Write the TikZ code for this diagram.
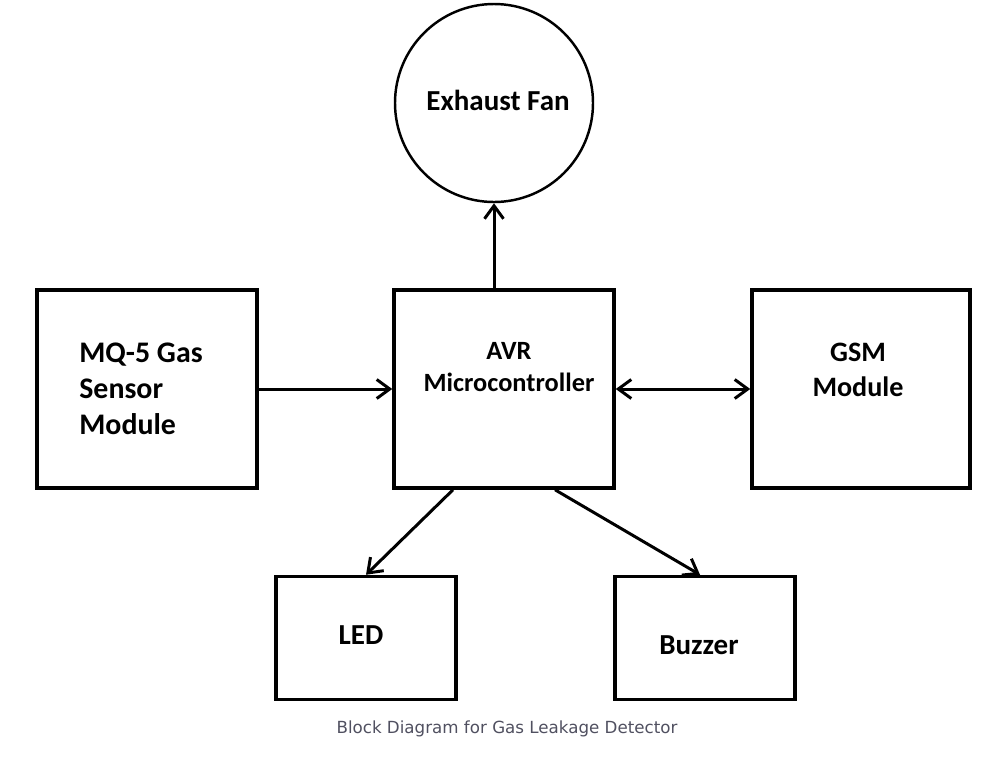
\documentclass[tikz,border=0pt]{standalone}
\usepackage{fontspec}
\setmainfont{Carlito}
\newfontfamily\captfont{DejaVu Sans}
\usepackage{tikz}
\usetikzlibrary{arrows.meta}
\usetikzlibrary{shapes,positioning}
\definecolor{captgray}{RGB}{80,80,96}
\tikzset{>={Straight Barb[length=2.6mm,width=3.8mm]},
  block/.style={draw, line width=2pt, inner sep=0pt},
  link/.style={line width=1.7pt},
  lbl/.style={font=\bfseries\fontsize{16.5}{20.4}\selectfont, inner sep=0pt},
  smalllbl/.style={font=\bfseries\fontsize{15}{18}\selectfont, inner sep=0pt}}

\begin{document}
\begin{tikzpicture}[x=0.2mm, y=-0.2mm]

  \useasboundingbox (0,0) rectangle (1000,770);

  % blocks
  \node [draw, circle, line width=1.4pt, minimum size=3.96cm, inner sep=0pt] (fan) at (494,103) {};
  \node [block, minimum width=4.4cm, minimum height=3.96cm] (mq) at (147,389) {};
  \node [block, minimum width=4.4cm, minimum height=3.96cm] (avr) at (504,389) {};
  \node [block, minimum width=4.36cm, minimum height=3.96cm] (gsm) at (861,389) {};
  \node [block, minimum width=3.6cm, minimum height=2.46cm] (led) at (366,638) {};
  \node [block, minimum width=3.6cm, minimum height=2.46cm] (buzzer) at (705,638) {};

  % texts
  \node [lbl] (fantxt) at (498,100) {Exhaust Fan};
  \node [lbl, font=\bfseries\fontsize{17}{20.4}\selectfont, align=left, anchor=west] (mqtxt) at (79,389) {MQ-5 Gas\\Sensor\\Module};
  \node [smalllbl, align=center] (avrtxt) at (509,367) {AVR\\Microcontroller};
  \node [lbl, font=\bfseries\fontsize{16}{19.8}\selectfont, align=center] (gsmtxt) at (858,370) {GSM\\Module};
  \node [lbl] (ledtxt) at (361,635) {LED};
  \node [lbl] (buzzertxt) at (699,645) {Buzzer};

  % arrows
  \draw [link, ->] (fan.south |- avr.north) -- (fan.south);
  \draw [link, ->] (mq.east) -- (avr.west);
  \draw [link, <->] (avr.east) -- (gsm.west);
  \draw [link, ->] ([xshift=-1.02cm]avr.south) -- (led.north);
  \draw [link, ->] ([xshift=1.02cm]avr.south) -- ([xshift=-0.1cm]buzzer.north);

  \node [font=\captfont\fontsize{9.5}{12}\selectfont, text=captgray] (caption) at (507,729) {Block Diagram for Gas Leakage Detector};

\end{tikzpicture}
\end{document}
